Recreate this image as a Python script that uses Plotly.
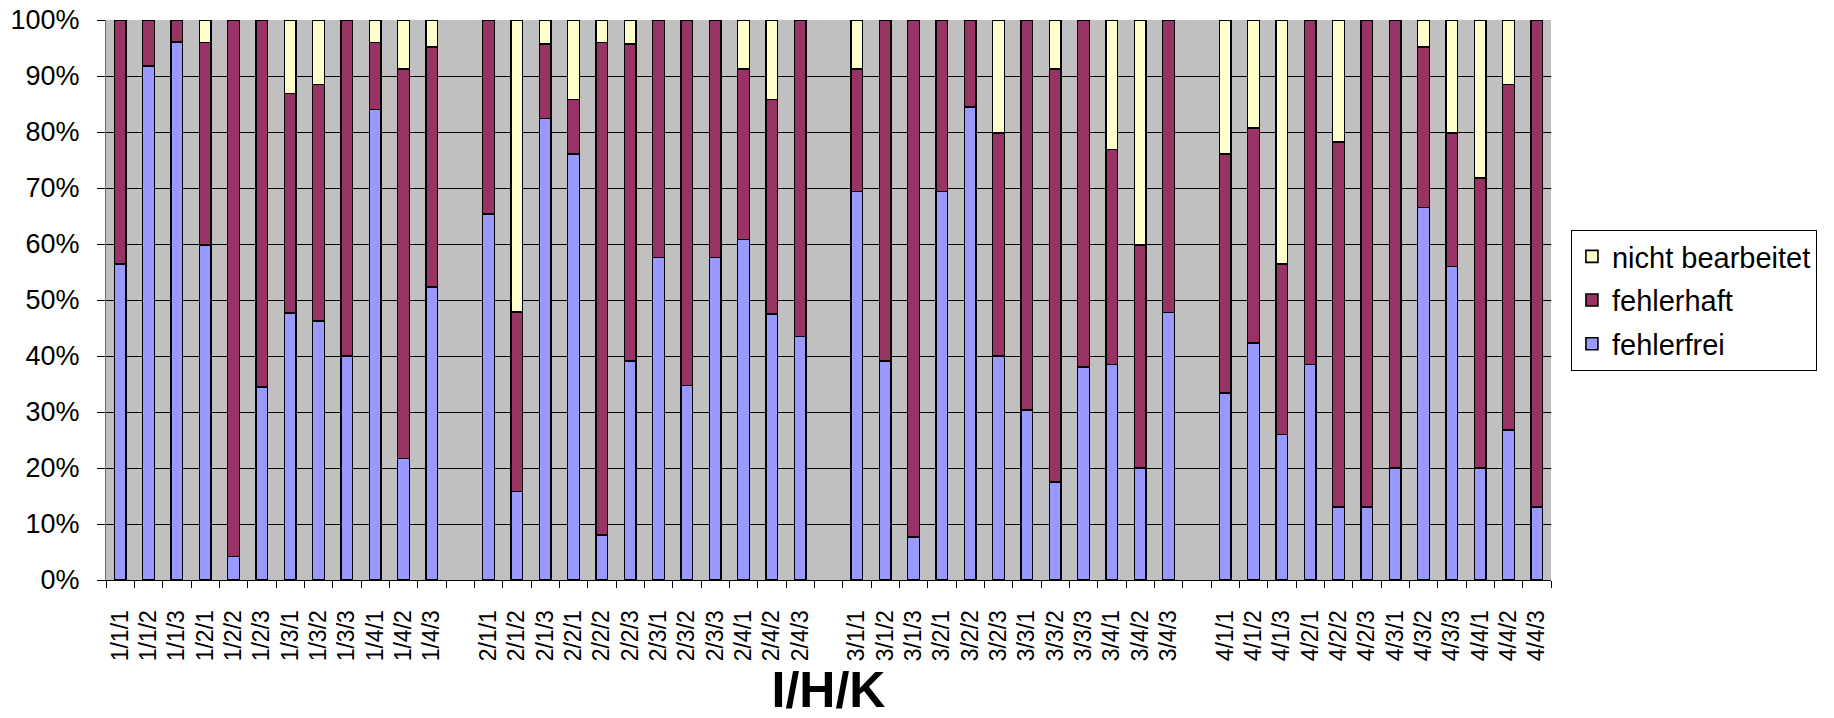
import plotly.graph_objects as go

categories = [
    "1/1/1", "1/1/2", "1/1/3", "1/2/1", "1/2/2", "1/2/3", "1/3/1", "1/3/2", "1/3/3", "1/4/1", "1/4/2", "1/4/3",
    " ",
    "2/1/1", "2/1/2", "2/1/3", "2/2/1", "2/2/2", "2/2/3", "2/3/1", "2/3/2", "2/3/3", "2/4/1", "2/4/2", "2/4/3",
    "  ",
    "3/1/1", "3/1/2", "3/1/3", "3/2/1", "3/2/2", "3/2/3", "3/3/1", "3/3/2", "3/3/3", "3/4/1", "3/4/2", "3/4/3",
    "   ",
    "4/1/1", "4/1/2", "4/1/3", "4/2/1", "4/2/2", "4/2/3", "4/3/1", "4/3/2", "4/3/3", "4/4/1", "4/4/2", "4/4/3",
]

fehlerfrei = [
    56.4, 91.8, 96.1, 59.8, 4.2, 34.5, 47.7, 46.2, 40.0, 84.0, 21.7, 52.3,
    None,
    65.4, 15.8, 82.4, 76.1, 8.0, 39.1, 57.6, 34.7, 57.6, 60.8, 47.5, 43.5,
    None,
    69.4, 39.1, 7.7, 69.4, 84.5, 40.0, 30.4, 17.5, 38.0, 38.5, 20.0, 47.8,
    None,
    33.4, 42.3, 26.0, 38.5, 13.0, 13.0, 20.0, 66.5, 56.0, 20.0, 26.8, 13.0,
]

fehlerhaft = [
    43.6, 8.2, 3.9, 36.2, 95.8, 65.5, 39.2, 42.3, 60.0, 12.0, 69.5, 42.9,
    None,
    34.6, 32.1, 13.3, 9.7, 88.0, 56.6, 42.4, 65.3, 42.4, 30.4, 38.3, 56.5,
    None,
    21.8, 60.9, 92.3, 30.6, 15.5, 39.8, 69.6, 73.7, 62.0, 38.4, 39.8, 52.2,
    None,
    42.7, 38.4, 30.4, 61.5, 65.2, 87.0, 80.0, 28.7, 23.8, 51.8, 61.7, 87.0,
]

nicht_bearbeitet = [
    0, 0, 0, 4.0, 0, 0, 13.1, 11.5, 0, 4.0, 8.8, 4.8,
    None,
    0, 52.1, 4.3, 14.2, 4.0, 4.3, 0, 0, 0, 8.8, 14.2, 0,
    None,
    8.8, 0, 0, 0, 0, 20.2, 0, 8.8, 0, 23.1, 40.2, 0,
    None,
    23.9, 19.3, 43.6, 0, 21.8, 0, 0, 4.8, 20.2, 28.2, 11.5, 0,
]

y_ticks = [0, 10, 20, 30, 40, 50, 60, 70, 80, 90, 100]

series = [
    ("fehlerfrei", fehlerfrei, "#9999FF", 3),
    ("fehlerhaft", fehlerhaft, "#993366", 2),
    ("nicht bearbeitet", nicht_bearbeitet, "#FFFFCC", 1),
]

FONT = "Liberation Sans, Arial, sans-serif"

fig = go.Figure()
for name, vals, color, rank in series:
    fig.add_trace(go.Bar(
        x=categories, y=vals, name=name, legendgroup=name, legendrank=rank,
        marker=dict(color=color, line=dict(color="#000000", width=1.6)),
    ))

fig.update_layout(
    barmode="stack",
    bargap=0.59,
    width=1834, height=718,
    margin=dict(l=106, r=283, t=20, b=138, autoexpand=False),
    paper_bgcolor="#FFFFFF",
    plot_bgcolor="#C0C0C0",
    font=dict(family=FONT, color="#000000"),
    showlegend=True,
    legend=dict(
        x=1.0138, xanchor="left", y=0.625, yanchor="top",
        traceorder="grouped", tracegroupgap=3,
        bordercolor="#000000", borderwidth=1, bgcolor="#FFFFFF",
        font=dict(size=29, family=FONT),
    ),
)

fig.update_xaxes(
    type="category",
    categoryorder="array", categoryarray=categories,
    automargin=False,
    tickangle=-90,
    tickfont=dict(size=23, family=FONT),
    ticks="outside", tickson="boundaries", ticklen=7, tickcolor="#000000",
    ticklabelstandoff=20,
    showline=True, linecolor="#000000", linewidth=1,
    showgrid=False,
    title=dict(text="<b>I/H/K</b>", font=dict(size=50, family=FONT), standoff=16),
)

fig.update_yaxes(
    range=[0, 100],
    automargin=False,
    tickvals=y_ticks,
    ticktext=[f"{v}%" for v in y_ticks],
    tickfont=dict(size=27, family=FONT),
    ticks="outside", ticklen=8, tickcolor="#000000",
    ticklabelstandoff=12,
    showline=True, linecolor="#707070", linewidth=1,
    showgrid=True, gridcolor="#000000", gridwidth=1,
    zeroline=False,
)

fig.write_html("out.html")
